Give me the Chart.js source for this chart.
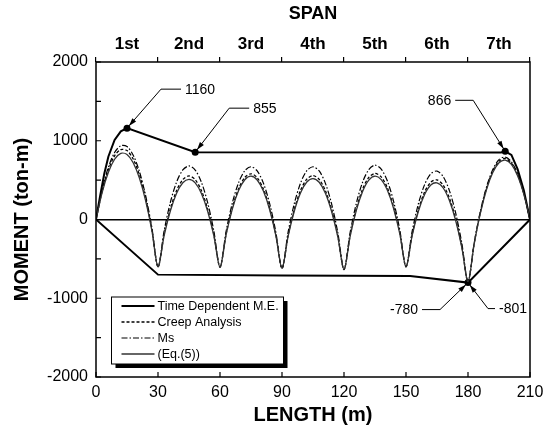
<!DOCTYPE html>
<html>
<head>
<meta charset="utf-8">
<script src="https://cdn.jsdelivr.net/npm/chart.js@4"></script>
<style>
  body { margin: 0; background: #fff; }
  canvas { display: block; }
</style>
</head>
<body>
<canvas id="moment-chart" width="554" height="432"></canvas>
<script>
// posiciones a lo largo del puente (m)
const lengths = [0, 3, 6, 9, 12, 15, 18, 21, 24, 27, 30,
  33, 36, 39, 42, 45, 48, 51, 54, 57, 60,
  63, 66, 69, 72, 75, 78, 81, 84, 87, 90,
  93, 96, 99, 102, 105, 108, 111, 114, 117, 120,
  123, 126, 129, 132, 135, 138, 141, 144, 147, 150,
  153, 156, 159, 162, 165, 168, 171, 174, 177, 180,
  183, 186, 189, 192, 195, 198, 201, 204, 207, 210];

const eqFive = [0, 345, 600, 765, 840, 825, 720, 525, 240, -135, -600,
  -200, 111, 333, 466, 510, 465, 331, 108, -204, -605,
  -188, 136, 367, 505, 550, 502, 361, 127, -200, -620,
  -208, 111, 340, 476, 520, 473, 334, 102, -220, -635,
  -211, 119, 356, 500, 550, 507, 370, 140, -183, -600,
  -201, 104, 317, 438, 465, 400, 241, -10, -353, -790,
  -310, 82, 384, 596, 720, 754, 700, 556, 322, 0];

const creep = [0, 363, 632, 808, 888, 875, 768, 567, 272, -117, -600,
  -185, 138, 369, 507, 553, 506, 367, 135, -189, -605,
  -177, 155, 392, 534, 580, 531, 386, 146, -189, -620,
  -195, 135, 371, 512, 558, 509, 365, 126, -207, -635,
  -199, 141, 386, 534, 585, 541, 400, 162, -171, -600,
  -188, 128, 348, 474, 503, 436, 272, 14, -340, -790,
  -302, 94, 400, 616, 740, 774, 716, 568, 330, 0];

const ms = [0, 381, 665, 850, 937, 926, 817, 610, 305, -98, -600,
  -139, 220, 476, 629, 680, 628, 474, 217, -143, -605,
  -145, 213, 468, 620, 670, 617, 462, 204, -157, -620,
  -154, 207, 465, 620, 670, 617, 459, 198, -166, -635,
  -161, 209, 474, 634, 690, 641, 488, 230, -133, -600,
  -147, 200, 443, 582, 615, 544, 367, 86, -299, -790,
  -295, 107, 417, 635, 760, 793, 733, 581, 337, 0];

// envolvente (Time Dependent M.E.)
const upperX = [0, 2, 4, 6, 9, 12, 15, 48, 196, 198, 201, 204, 207, 210];
const upperY = [0, 300, 580, 800, 1010, 1120, 1160, 855, 850, 866, 820, 640, 370, 0];
const lowerX = [0, 30, 90, 152, 180, 210];
const lowerY = [0, -700, -710, -718, -801, 0];

const markX = [15, 48, 198, 180];
const markY = [1160, 855, 866, -801];

const spanLabels = ['1st', '2nd', '3rd', '4th', '5th', '6th', '7th'];

const noteTexts = ['1160', '855', '866', '-780', '-801'];
const noteAt = [[15, 1160], [48, 855], [198, 866], [180, -801], [180, -801]];
// desplazamientos del texto en pixeles: codo (dx, dy), tramo horizontal
const noteOffsets = [[34, -39, 20], [34, -44, 20], [-32, -51, -18], [-28, 27, -18], [20, 26, 7]];

const FONT = "'Liberation Sans', Arial, Helvetica, sans-serif";
Chart.defaults.font.family = FONT;
Chart.defaults.color = '#000';

function pts(xs, ys) {
    return xs.map((x, i) => ({ x: x, y: ys[i] }));
}

const datasets = [
    { label: '(Eq.(5))', data: pts(lengths, eqFive), borderColor: '#333', borderWidth: 1.3, tension: 0.3 },
    { label: 'Creep Analysis', data: pts(lengths, creep), borderColor: '#000', borderWidth: 1.3, borderDash: [3, 2], tension: 0.3 },
    { label: 'Ms', data: pts(lengths, ms), borderColor: '#000', borderWidth: 1.2, borderDash: [6, 2, 1.5, 2], tension: 0.3 },
    { label: 'Time Dependent M.E.', data: pts(upperX, upperY), borderColor: '#000', borderWidth: 2, tension: 0 },
    { label: 'Time Dependent M.E.', data: pts(lowerX, lowerY), borderColor: '#000', borderWidth: 2, tension: 0 },
    { label: '', data: pts(markX, markY), showLine: false, pointRadius: 3.5, pointBackgroundColor: '#000', pointBorderWidth: 0 }
];
datasets.forEach(d => {
    if (d.pointRadius === undefined) d.pointRadius = 0;
    d.fill = false;
});

const legendOrder = ['Time Dependent M.E.', 'Creep Analysis', 'Ms', '(Eq.(5))'];

const framePlugin = {
    id: 'frame',
    afterDraw(chart) {
        const c = chart.ctx;
        const a = chart.chartArea;
        const xs = chart.scales.x;
        const ys = chart.scales.y;
        c.save();
        c.strokeStyle = '#000';
        c.lineWidth = 1.5;
        c.strokeRect(a.left, a.top, a.right - a.left, a.bottom - a.top);

        // marcas hacia adentro
        c.lineWidth = 1.2;
        c.beginPath();
        xs.ticks.forEach(t => {
            const px = xs.getPixelForValue(t.value);
            c.moveTo(px, a.bottom);
            c.lineTo(px, a.bottom - 5);
        });
        ys.ticks.forEach(t => {
            const py = ys.getPixelForValue(t.value);
            c.moveTo(a.left, py);
            c.lineTo(a.left + 5, py);
        });
        c.stroke();

        // anotaciones con flecha
        c.font = '14px ' + FONT;
        c.textBaseline = 'middle';
        noteTexts.forEach((txt, i) => {
            const px = xs.getPixelForValue(noteAt[i][0]);
            const py = ys.getPixelForValue(noteAt[i][1]);
            const off = noteOffsets[i];
            const ex = px + off[0], ey = py + off[1];
            const hx = ex + off[2];
            c.lineWidth = 1;
            c.beginPath();
            c.moveTo(hx, ey);
            c.lineTo(ex, ey);
            c.lineTo(px, py);
            c.stroke();
            const ang = Math.atan2(py - ey, px - ex);
            const tx = px - Math.cos(ang) * 3, ty = py - Math.sin(ang) * 3;
            c.beginPath();
            c.moveTo(tx, ty);
            c.lineTo(tx - Math.cos(ang) * 8 - Math.sin(ang) * 2.5, ty - Math.sin(ang) * 8 + Math.cos(ang) * 2.5);
            c.lineTo(tx - Math.cos(ang) * 8 + Math.sin(ang) * 2.5, ty - Math.sin(ang) * 8 - Math.cos(ang) * 2.5);
            c.closePath();
            c.fillStyle = '#000';
            c.fill();
            if (off[2] >= 0) {
                c.textAlign = 'left';
                c.fillText(txt, hx + 4, ey + 1);
            } else {
                c.textAlign = 'right';
                c.fillText(txt, hx - 4, ey + 1);
            }
        });

        // leyenda con sombra
        const bx = a.left + 15.5, by = a.bottom - 80, bw = 172, bh = 67;
        c.fillStyle = '#000';
        c.fillRect(bx + 4, by + 4, bw, bh);
        c.fillStyle = '#fff';
        c.fillRect(bx, by, bw, bh);
        c.lineWidth = 1;
        c.strokeRect(bx, by, bw, bh);
        c.font = '12.5px ' + FONT;
        c.textAlign = 'left';
        legendOrder.forEach((lbl, i) => {
            const ds = chart.data.datasets.find(d => d.label === lbl);
            const ry = by + 9 + i * 16;
            c.strokeStyle = ds.borderColor;
            c.lineWidth = ds.borderWidth;
            c.setLineDash(ds.borderDash || []);
            c.beginPath();
            c.moveTo(bx + 10, ry);
            c.lineTo(bx + 43, ry);
            c.stroke();
            c.setLineDash([]);
            c.fillStyle = '#000';
            c.fillText(lbl, bx + 46, ry + 1);
        });
        c.restore();
    }
};

const ctx = document.getElementById('moment-chart').getContext('2d');
new Chart(ctx, {
    type: 'line',
    data: { datasets: datasets },
    options: {
        responsive: false,
        animation: false,
        layout: { padding: { left: 0, top: 0, bottom: 0, right: 24 } },
        plugins: {
            legend: { display: false },
            tooltip: { enabled: false }
        },
        scales: {
            x: {
                type: 'linear', position: 'bottom', min: 0, max: 210,
                ticks: { stepSize: 30, padding: 6, maxRotation: 0, font: { size: 16 } },
                grid: { display: false, drawTicks: false },
                border: { display: false },
                title: { display: true, text: 'LENGTH (m)', font: { size: 20, weight: 'bold' }, padding: { top: 0, bottom: 5 } },
                afterFit: s => { s.height = 55; }
            },
            xTop: {
                type: 'linear', position: 'top', min: 0, max: 210,
                ticks: {
                    stepSize: 15, padding: 2, maxRotation: 0, autoSkip: false,
                    font: { size: 17, weight: 'bold' },
                    callback: v => (v % 30 === 15 ? spanLabels[(v - 15) / 30] : '')
                },
                grid: {
                    drawOnChartArea: false, tickLength: 5, lineWidth: 1.2,
                    tickColor: c => (c.tick && c.tick.value % 30 === 0 ? '#000' : 'rgba(0,0,0,0)')
                },
                border: { display: false },
                title: { display: true, text: 'SPAN', font: { size: 18, weight: 'bold' }, padding: { top: 3, bottom: 0 } },
                afterFit: s => { s.height = 62; }
            },
            y: {
                min: -2000, max: 2000,
                ticks: { stepSize: 500, padding: 8, font: { size: 16 }, callback: v => (v % 1000 === 0 ? v : '') },
                grid: {
                    drawTicks: false, lineWidth: 1.5,
                    color: c => (c.tick && c.tick.value === 0 ? '#000' : 'rgba(0,0,0,0)')
                },
                border: { display: false },
                title: { display: true, text: 'MOMENT (ton-m)', font: { size: 20, weight: 'bold' }, padding: { top: 10, bottom: 0 } },
                afterFit: s => { s.width = 96; }
            }
        }
    },
    plugins: [framePlugin]
});
</script>
</body>
</html>
